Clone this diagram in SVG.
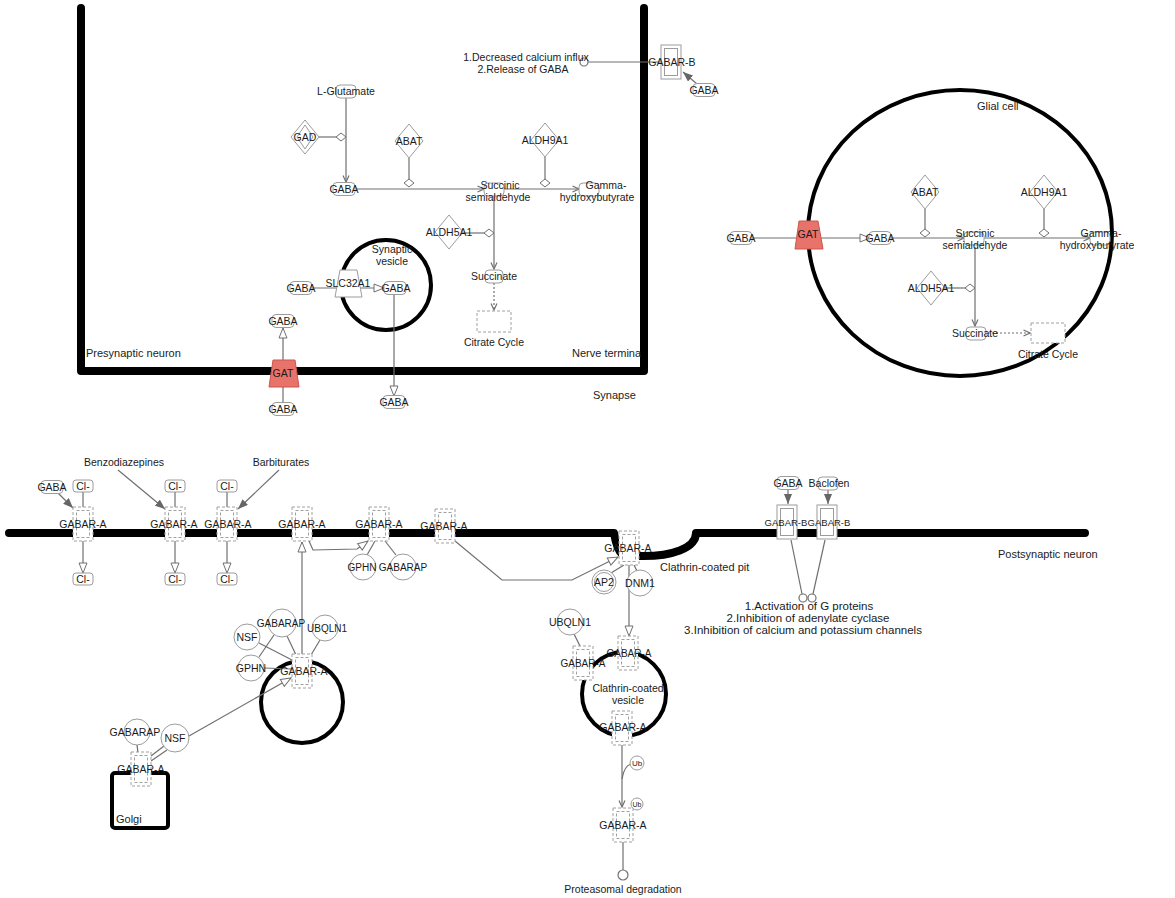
<svg xmlns="http://www.w3.org/2000/svg" width="1175" height="898" viewBox="0 0 1175 898">
<style>
.t{font-family:"Liberation Sans",Arial,sans-serif;font-size:10.5px;fill:#1a1a1a;text-anchor:middle}
.ts{font-family:"Liberation Sans",Arial,sans-serif;font-size:11px;fill:#222;text-anchor:start}
.s10{font-size:10px}
.big{font-size:11.5px}
.nd{fill:#fff;stroke:#9c9c9c;stroke-width:1}
.dash{fill:#fff;stroke:#a0a0a0;stroke-width:1;stroke-dasharray:3 2}
.dashi{fill:none;stroke:#a0a0a0;stroke-width:1;stroke-dasharray:3 2}
.red{fill:#e8736b;stroke:#c9564f;stroke-width:1}
.c{stroke:#707070;stroke-width:1.2;fill:none}
.dot{stroke:#707070;stroke-width:1.2;fill:none;stroke-dasharray:2 2}
.mem{stroke:#000;stroke-width:8;fill:none;stroke-linecap:round;stroke-linejoin:round}
.ves{stroke:#000;stroke-width:4;fill:none}
</style>
<defs>
<marker id="open" viewBox="0 0 12 10" refX="11" refY="5" markerWidth="12" markerHeight="10" orient="auto" markerUnits="userSpaceOnUse"><path d="M1 1 L11 5 L1 9 Z" fill="#fff" stroke="#707070" stroke-width="1"/></marker>
<marker id="fill" viewBox="0 0 10 8" refX="10" refY="4" markerWidth="10" markerHeight="8" orient="auto" markerUnits="userSpaceOnUse"><path d="M0 0 L10 4 L0 8 Z" fill="#666"/></marker>
<marker id="vee" viewBox="0 0 8 8" refX="7.5" refY="4" markerWidth="8" markerHeight="8" orient="auto" markerUnits="userSpaceOnUse"><path d="M1 1 L7.5 4 L1 7" fill="none" stroke="#707070" stroke-width="1.2"/></marker>
<rect id="chem" x="-11" y="-6.5" width="22" height="13" rx="4" class="nd"/>
<path id="dia" d="M0 -17 L14 0 L0 17 L-14 0 Z" class="nd"/>
<path id="cat" d="M-5 0 L0 -4 L5 0 L0 4 Z" fill="#fff" stroke="#707070" stroke-width="1"/>
<g id="gaba_a"><rect x="-10" y="-17" width="20" height="34" class="dash"/><rect x="-6.5" y="-13.5" width="13" height="27" class="dashi"/></g>
<g id="gaba_b"><rect x="-10" y="-17" width="20" height="34" class="nd"/><rect x="-6.5" y="-13.5" width="13" height="27" class="nd"/></g>
</defs>

<!-- compartments -->
<g id="presynaptic_neuron">
<path class="mem" d="M81 8 L81 371 L644 371 L644 8"/>
<text class="ts" x="86" y="357">Presynaptic neuron</text>
<text class="ts" x="572" y="357">Nerve termina</text>
<text class="ts" x="593" y="399">Synapse</text>
</g>
<g id="synaptic_vesicle">
<circle class="ves" cx="386" cy="285" r="45"/>
<text class="t" x="392" y="253">Synaptic</text>
<text class="t" x="392" y="265">vesicle</text>
</g>
<g id="glial_cell">
<ellipse class="ves" cx="960" cy="233" rx="152" ry="143" stroke-width="3.5"/>
<text class="ts" x="977" y="110">Glial cell</text>
</g>
<g id="postsynaptic_neuron">
<path class="mem" d="M9 533 L614 533 C616 545 618 551 622 554"/>
<path class="mem" d="M638 556 C672 557 696 548 696 533 L1085 533"/>
<text class="ts" x="998" y="558">Postsynaptic neuron</text>
<text class="ts" x="660" y="571">Clathrin-coated pit</text>
</g>
<g id="clathrin_vesicle">
<circle class="ves" cx="624" cy="694" r="42"/>
<text class="t" x="628" y="692">Clathrin-coated</text>
<text class="t" x="628" y="704">vesicle</text>
</g>
<g id="endo_vesicle">
<circle class="ves" cx="302" cy="702" r="41"/>
</g>
<g id="golgi">
<rect class="ves" x="112" y="773" width="56" height="55" rx="3"/>
<text class="ts" x="116" y="823">Golgi</text>
</g>

<!-- connectors -->
<g id="connectors">
<line class="c" x1="661" y1="62" x2="588" y2="62"/>
<circle cx="584" cy="62" r="4" fill="#fff" stroke="#707070" stroke-width="1.2"/>
<line class="c" x1="697" y1="84" x2="683" y2="72" marker-end="url(#fill)"/>
<line class="c" x1="346" y1="98" x2="346" y2="182" marker-end="url(#vee)"/>
<line class="c" x1="317" y1="137" x2="336" y2="137"/>
<use href="#cat" x="341" y="137"/>
<line class="c" x1="356" y1="189" x2="484" y2="189" marker-end="url(#vee)"/>
<line class="c" x1="409" y1="158" x2="409" y2="179"/>
<use href="#cat" x="409" y="183"/>
<line class="c" x1="504" y1="189" x2="579" y2="189" marker-end="url(#vee)"/>
<line class="c" x1="545" y1="157" x2="545" y2="179"/>
<use href="#cat" x="545" y="183"/>
<line class="c" x1="494" y1="196" x2="494" y2="269" marker-end="url(#vee)"/>
<line class="c" x1="462" y1="233" x2="484" y2="233"/>
<use href="#cat" x="489" y="233"/>
<line class="dot" x1="494" y1="283" x2="494" y2="310" marker-end="url(#vee)"/>
<line class="c" x1="312" y1="288" x2="384" y2="288" marker-end="url(#open)"/>
<line class="c" x1="394" y1="295" x2="394" y2="396" marker-end="url(#open)"/>
<line class="c" x1="283" y1="402" x2="283" y2="328" marker-end="url(#open)"/>
<!-- glial -->
<line class="c" x1="752" y1="238" x2="870" y2="238" marker-end="url(#open)"/>
<line class="c" x1="891" y1="238" x2="964" y2="238" marker-end="url(#vee)"/>
<line class="c" x1="984" y1="238" x2="1090" y2="238" marker-end="url(#vee)"/>
<line class="c" x1="925" y1="209" x2="925" y2="229"/>
<use href="#cat" x="925" y="233"/>
<line class="c" x1="1044" y1="209" x2="1044" y2="229"/>
<use href="#cat" x="1044" y="233"/>
<line class="c" x1="975" y1="247" x2="975" y2="326" marker-end="url(#vee)"/>
<line class="c" x1="945" y1="288" x2="965" y2="288"/>
<use href="#cat" x="970" y="288"/>
<line class="dot" x1="988" y1="333" x2="1030" y2="333" marker-end="url(#vee)"/>
<!-- postsynaptic -->
<line class="c" x1="58" y1="493" x2="73" y2="508" marker-end="url(#fill)"/>
<line class="c" x1="83" y1="492" x2="83" y2="507"/>
<line class="c" x1="83" y1="541" x2="83" y2="573" marker-end="url(#open)"/>
<line class="c" x1="175" y1="492" x2="175" y2="507"/>
<line class="c" x1="175" y1="541" x2="175" y2="573" marker-end="url(#open)"/>
<line class="c" x1="227" y1="492" x2="227" y2="507"/>
<line class="c" x1="227" y1="541" x2="227" y2="573" marker-end="url(#open)"/>
<line class="c" x1="118" y1="470" x2="165" y2="509" marker-end="url(#fill)"/>
<line class="c" x1="279" y1="470" x2="238" y2="509" marker-end="url(#fill)"/>
<line class="c" x1="302" y1="655" x2="302" y2="542" marker-end="url(#open)"/>
<polyline class="c" points="309,541 313,550 357,549 368,541" marker-end="url(#open)"/>
<line class="c" x1="375" y1="541" x2="367" y2="555"/>
<line class="c" x1="385" y1="541" x2="396" y2="555"/>
<polyline class="c" points="455,541 502,580 572,580 618,557" marker-end="url(#open)"/>
<line class="c" x1="624" y1="565" x2="611" y2="573"/>
<line class="c" x1="634" y1="565" x2="637" y2="571"/>
<line class="c" x1="629" y1="565" x2="629" y2="636" marker-end="url(#open)"/>
<line class="c" x1="574" y1="634" x2="580" y2="646"/>
<line class="c" x1="622" y1="745" x2="622" y2="807" marker-end="url(#vee)"/>
<path class="c" d="M622 779 Q624 766 631 764"/>
<line class="c" x1="623" y1="842" x2="623" y2="870"/>
<circle cx="623" cy="875" r="5" fill="#fff" stroke="#707070" stroke-width="1.2"/>
<line class="c" x1="788" y1="490" x2="788" y2="504" marker-end="url(#fill)"/>
<line class="c" x1="828" y1="490" x2="828" y2="504" marker-end="url(#fill)"/>
<line class="c" x1="791" y1="540" x2="802" y2="594"/>
<line class="c" x1="825" y1="540" x2="813" y2="594"/>
<circle cx="803" cy="598" r="4" fill="#fff" stroke="#707070" stroke-width="1.2"/>
<circle cx="812" cy="598" r="4" fill="#fff" stroke="#707070" stroke-width="1.2"/>
<!-- endosomal vesicle complexes -->
<line class="c" x1="259" y1="643" x2="292" y2="660"/>
<line class="c" x1="287" y1="636" x2="296" y2="655"/>
<line class="c" x1="274" y1="635" x2="259" y2="657"/>
<line class="c" x1="320" y1="640" x2="311" y2="655"/>
<line class="c" x1="264" y1="668" x2="292" y2="669"/>
<!-- golgi -->
<line class="c" x1="137" y1="745" x2="138" y2="753"/>
<line class="c" x1="164" y1="746" x2="151" y2="756"/>
<line class="c" x1="167" y1="750" x2="151" y2="761"/>
<line class="c" x1="189" y1="736" x2="291" y2="678" marker-end="url(#open)"/>
</g>

<!-- presynaptic nodes -->
<g id="n_pre_effect"><text class="t" x="526" y="61">1.Decreased calcium influx</text><text class="t" x="523" y="73">2.Release of GABA</text></g>
<g id="n_pre_gabarb"><use href="#gaba_b" x="671" y="62"/><text class="t" x="672" y="66">GABAR-B</text></g>
<g id="n_pre_gaba_b"><use href="#chem" x="704" y="90"/><text class="t" x="704" y="94">GABA</text></g>
<g id="n_lglu"><rect x="336" y="85" width="20" height="13" rx="4" class="nd"/><text class="t" x="346" y="95">L-Glutamate</text></g>
<g id="n_gad"><use href="#dia" x="305" y="137"/><path d="M305 -12 L313 0 L305 12 L297 0 Z" transform="translate(0 137)" class="nd"/><text class="t" x="305" y="141">GAD</text></g>
<g id="n_gaba1"><use href="#chem" x="344" y="189"/><text class="t" x="344" y="193">GABA</text></g>
<g id="n_abat1"><use href="#dia" x="409" y="141"/><text class="t" x="409" y="145">ABAT</text></g>
<g id="n_ssa1"><rect x="484" y="183" width="20" height="13" rx="4" class="nd"/><text class="t" x="500" y="189">Succinic</text><text class="t" x="498" y="201">semialdehyde</text></g>
<g id="n_aldh9_1"><use href="#dia" x="545" y="140"/><text class="t" x="545" y="144">ALDH9A1</text></g>
<g id="n_ghb1"><rect x="579" y="183" width="20" height="13" rx="4" class="nd"/><text class="t" x="606" y="189">Gamma-</text><text class="t" x="597" y="201">hydroxybutyrate</text></g>
<g id="n_aldh5_1"><use href="#dia" x="449" y="232"/><text class="t" x="449" y="236">ALDH5A1</text></g>
<g id="n_succ1"><rect x="485" y="270" width="18" height="13" rx="4" class="nd"/><text class="t" x="494" y="280">Succinate</text></g>
<g id="n_citr1"><rect x="477" y="311" width="34" height="21" class="dash"/><text class="t" x="494" y="346">Citrate Cycle</text></g>
<g id="n_gaba_syn"><use href="#chem" x="301" y="288"/><text class="t" x="301" y="292">GABA</text></g>
<g id="n_slc32a1"><path d="M340 270 L357 270 L362 297 L335 297 Z" class="nd"/><text class="t" x="348" y="287">SLC32A1</text></g>
<g id="n_gaba_ves"><use href="#chem" x="395" y="288"/><text class="t" x="396" y="292">GABA</text></g>
<g id="n_gaba_out"><use href="#chem" x="394" y="402"/><text class="t" x="394" y="406">GABA</text></g>
<g id="n_gat1"><path d="M273 360 L295 360 L299 387 L269 387 Z" class="red"/><text class="t" x="283" y="377">GAT</text></g>
<g id="n_gaba_in"><use href="#chem" x="283" y="321"/><text class="t" x="283" y="325">GABA</text></g>
<g id="n_gaba_cleft"><use href="#chem" x="283" y="409"/><text class="t" x="283" y="413">GABA</text></g>

<!-- glial nodes -->
<g id="n_gaba_g0"><use href="#chem" x="741" y="238"/><text class="t" x="741" y="242">GABA</text></g>
<g id="n_gat2"><path d="M799 221 L818 221 L823 249 L795 249 Z" class="red"/><text class="t" x="808" y="238">GAT</text></g>
<g id="n_gaba_g1"><use href="#chem" x="880" y="238"/><text class="t" x="880" y="242">GABA</text></g>
<g id="n_abat2"><use href="#dia" x="925" y="192"/><text class="t" x="925" y="196">ABAT</text></g>
<g id="n_ssa2"><rect x="964" y="232" width="20" height="13" rx="4" class="nd"/><text class="t" x="975" y="237">Succinic</text><text class="t" x="975" y="249">semialdehyde</text></g>
<g id="n_aldh9_2"><use href="#dia" x="1044" y="192"/><text class="t" x="1044" y="196">ALDH9A1</text></g>
<g id="n_ghb2"><rect x="1090" y="232" width="20" height="13" rx="4" class="nd"/><text class="t" x="1101" y="237">Gamma-</text><text class="t" x="1097" y="249">hydroxybutyrate</text></g>
<g id="n_aldh5_2"><use href="#dia" x="931" y="288"/><text class="t" x="931" y="292">ALDH5A1</text></g>
<g id="n_succ2"><rect x="966" y="327" width="20" height="13" rx="4" class="nd"/><text class="t" x="975" y="337">Succinate</text></g>
<g id="n_citr2"><rect x="1031" y="323" width="34" height="20" class="dash"/><text class="t" x="1048" y="358">Citrate Cycle</text></g>

<!-- postsynaptic nodes -->
<g id="n_gaba_p1"><use href="#chem" x="52" y="487"/><text class="t" x="52" y="491">GABA</text></g>
<g id="n_benzo"><text class="t" x="124" y="466">Benzodiazepines</text></g>
<g id="n_barb"><text class="t" x="281" y="466">Barbiturates</text></g>
<g id="n_cl1a"><rect x="73" y="480" width="20" height="12" rx="3" class="nd"/><text class="t" x="83" y="490">Cl-</text></g>
<g id="n_cl2a"><rect x="165" y="480" width="20" height="12" rx="3" class="nd"/><text class="t" x="175" y="490">Cl-</text></g>
<g id="n_cl3a"><rect x="217" y="480" width="20" height="12" rx="3" class="nd"/><text class="t" x="227" y="490">Cl-</text></g>
<g id="n_cl1b"><rect x="73" y="573" width="20" height="12" rx="3" class="nd"/><text class="t" x="83" y="583">Cl-</text></g>
<g id="n_cl2b"><rect x="165" y="573" width="20" height="12" rx="3" class="nd"/><text class="t" x="175" y="583">Cl-</text></g>
<g id="n_cl3b"><rect x="217" y="573" width="20" height="12" rx="3" class="nd"/><text class="t" x="227" y="583">Cl-</text></g>
<g id="n_ra1"><use href="#gaba_a" x="83" y="524"/><text class="t" x="83" y="528">GABAR-A</text></g>
<g id="n_ra2"><use href="#gaba_a" x="175" y="524"/><text class="t" x="174" y="528">GABAR-A</text></g>
<g id="n_ra3"><use href="#gaba_a" x="227" y="524"/><text class="t" x="228" y="528">GABAR-A</text></g>
<g id="n_ra4"><use href="#gaba_a" x="302" y="524"/><text class="t" x="302" y="528">GABAR-A</text></g>
<g id="n_ra5"><use href="#gaba_a" x="379" y="524"/><text class="t" x="379" y="528">GABAR-A</text></g>
<g id="n_ra6"><use href="#gaba_a" x="445" y="526"/><text class="t" x="444" y="530">GABAR-A</text></g>
<g id="n_gphn1"><circle cx="363" cy="567" r="13" class="nd"/><text class="t s10" x="362" y="571">GPHN</text></g>
<g id="n_gabarap1"><circle cx="403" cy="567" r="13" class="nd"/><text class="t s10" x="403" y="571">GABARAP</text></g>
<g id="n_ra_pit"><use href="#gaba_a" x="629" y="548"/><text class="t" x="628" y="552">GABAR-A</text></g>
<g id="n_ap2"><circle cx="604" cy="582" r="12" class="nd"/><circle cx="604" cy="582" r="9.5" class="nd"/><text class="t" x="604" y="586">AP2</text></g>
<g id="n_dnm1"><circle cx="640" cy="583" r="13" class="nd"/><text class="t" x="640" y="587">DNM1</text></g>
<g id="n_gaba_p2"><use href="#chem" x="788" y="483"/><text class="t" x="788" y="487">GABA</text></g>
<g id="n_baclofen"><rect x="818" y="477" width="20" height="13" rx="4" class="nd"/><text class="t" x="829" y="487">Baclofen</text></g>
<g id="n_rb1"><use href="#gaba_b" x="787" y="522"/><text class="t" x="786" y="526" style="font-size:9.5px">GABAR-B</text></g>
<g id="n_rb2"><use href="#gaba_b" x="827" y="522"/><text class="t" x="829" y="526" style="font-size:9.5px">GABAR-B</text></g>
<g id="n_post_effect"><text class="t big" x="809" y="610">1.Activation of G proteins</text><text class="t big" x="808" y="622">2.Inhibition of adenylate cyclase</text><text class="t big" x="803" y="634">3.Inhibition of calcium and potassium channels</text></g>
<!-- clathrin vesicle nodes -->
<g id="n_ubqln1b"><circle cx="570" cy="622" r="13" class="nd"/><text class="t" x="570" y="626">UBQLN1</text></g>
<g id="n_rv1"><use href="#gaba_a" x="628" y="653"/><text class="t s10" x="629" y="657">GABAR-A</text></g>
<g id="n_rv2"><use href="#gaba_a" x="583" y="663"/><text class="t s10" x="583" y="667">GABAR-A</text></g>
<g id="n_rv3"><use href="#gaba_a" x="622" y="728"/><text class="t" x="623" y="731">GABAR-A</text></g>
<g id="n_ub1"><circle cx="637" cy="763" r="7" class="nd"/><text class="t" x="637" y="766" style="font-size:8px">Ub</text></g>
<g id="n_ub2"><circle cx="637" cy="804" r="6" class="nd"/><text class="t" x="637" y="807" style="font-size:7px">Ub</text></g>
<g id="n_rv4"><use href="#gaba_a" x="623" y="825"/><text class="t" x="623" y="829">GABAR-A</text></g>
<g id="n_prot"><text class="t" x="623" y="893">Proteasomal degradation</text></g>
<!-- endosomal vesicle nodes -->
<g id="n_nsf1"><circle cx="247" cy="637" r="13" class="nd"/><text class="t" x="247" y="641">NSF</text></g>
<g id="n_gabarap2"><circle cx="282" cy="623" r="14" class="nd"/><text class="t s10" x="281" y="627">GABARAP</text></g>
<g id="n_ubqln1a"><circle cx="325" cy="628" r="13" class="nd"/><text class="t s10" x="327" y="632">UBQLN1</text></g>
<g id="n_gphn2"><circle cx="251" cy="668" r="13" class="nd"/><text class="t" x="251" y="672">GPHN</text></g>
<g id="n_rev"><use href="#gaba_a" x="302" y="671"/><text class="t" x="304" y="675">GABAR-A</text></g>
<!-- golgi nodes -->
<g id="n_gabarap3"><circle cx="137" cy="732" r="13" class="nd"/><text class="t" x="135" y="736">GABARAP</text></g>
<g id="n_nsf2"><circle cx="175" cy="738" r="14" class="nd"/><text class="t" x="175" y="742">NSF</text></g>
<g id="n_rg"><use href="#gaba_a" x="141" y="769"/><text class="t" x="141" y="773">GABAR-A</text></g>
</svg>
